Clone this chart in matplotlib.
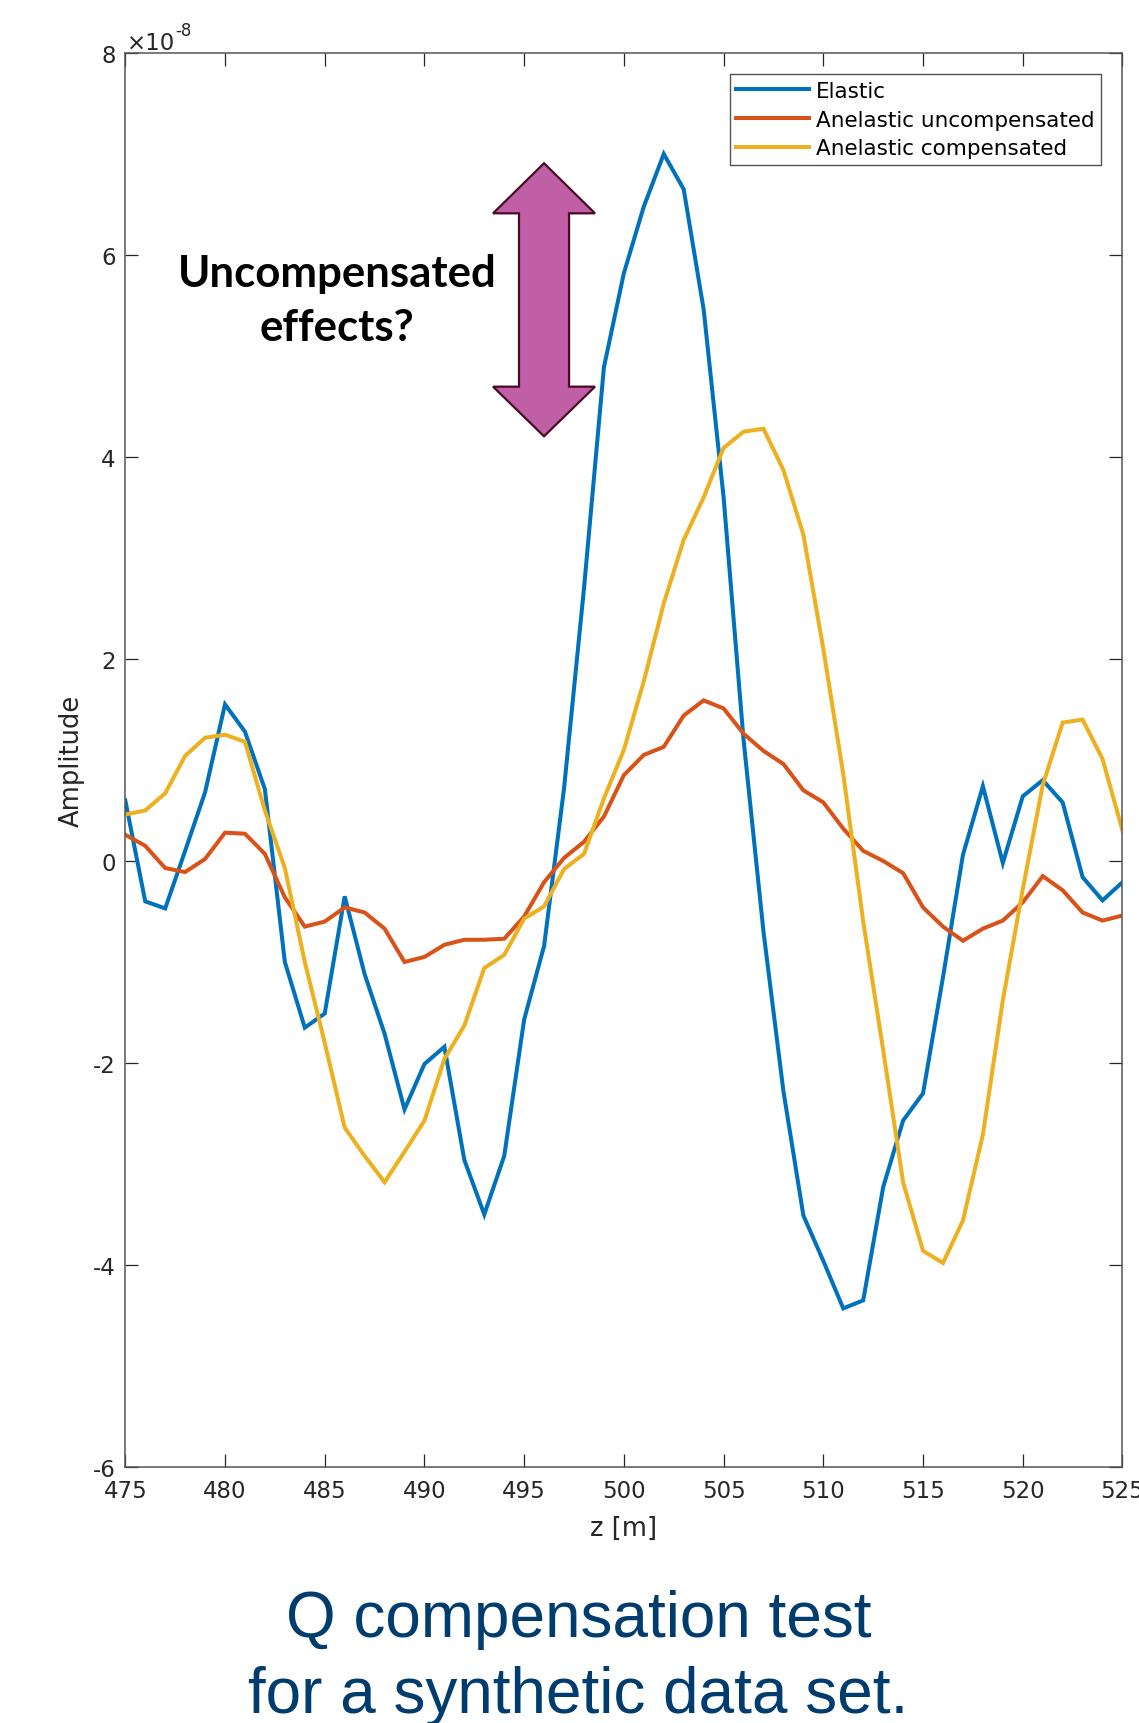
"""
    Q compensation test, synthetic trace comparison
"""
import numpy as np
import matplotlib
matplotlib.use("Agg")
import matplotlib.pyplot as plt
from matplotlib.patches import Polygon

plt.rcParams['font.family'] = ['DejaVu Sans']
plt.rcParams['axes.unicode_minus'] = False

# depth samples [m]
z = np.arange(475, 526)

# amplitudes in units of 1e-8
elastic = [0.60, -0.40, -0.47, 0.10, 0.68, 1.55, 1.28, 0.71, -1.00, -1.65,
           -1.51, -0.35, -1.12, -1.71, -2.46, -2.01, -1.84, -2.96, -3.50, -2.92,
           -1.57, -0.84, 0.72, 2.70, 4.89, 5.82, 6.48, 7.00, 6.65, 5.46,
           3.60, 1.20, -0.70, -2.28, -3.51, -3.96, -4.43, -4.35, -3.23, -2.57,
           -2.30, -1.15, 0.06, 0.74, -0.02, 0.64, 0.80, 0.58, -0.16, -0.39,
           -0.21]
anel_uncomp = [0.26, 0.15, -0.07, -0.11, 0.02, 0.28, 0.27, 0.07, -0.36, -0.65,
               -0.60, -0.46, -0.51, -0.67, -1.00, -0.95, -0.83, -0.78, -0.78, -0.77,
               -0.55, -0.21, 0.03, 0.19, 0.44, 0.85, 1.05, 1.13, 1.44, 1.59,
               1.51, 1.26, 1.09, 0.96, 0.70, 0.58, 0.32, 0.10, 0.00, -0.12,
               -0.46, -0.65, -0.79, -0.67, -0.59, -0.41, -0.15, -0.29, -0.51, -0.59,
               -0.54]
anel_comp = [0.46, 0.50, 0.67, 1.04, 1.22, 1.25, 1.18, 0.50, -0.07, -1.00,
             -1.80, -2.64, -2.92, -3.18, -2.88, -2.57, -1.96, -1.63, -1.06, -0.93,
             -0.57, -0.45, -0.08, 0.07, 0.62, 1.10, 1.78, 2.55, 3.18, 3.60,
             4.09, 4.25, 4.28, 3.87, 3.23, 2.10, 0.86, -0.60, -1.87, -3.18,
             -3.86, -3.98, -3.56, -2.71, -1.38, -0.28, 0.75, 1.37, 1.40, 1.01,
             0.30]

labels = ["Elastic", "Anelastic uncompensated", "Anelastic compensated"]
colors = ["#0072BD", "#D95319", "#EDB120"]

xticks = np.arange(475, 526, 5)
yticks = np.arange(-6, 9, 2)

text_col = '#262626'

fig = plt.figure(figsize=(11.39, 17.24), dpi=100)
ax = fig.add_axes([0.110, 0.1485, 0.8755, 0.8202])

for series, lab, col in zip([elastic, anel_uncomp, anel_comp], labels, colors):
    ax.plot(z, series, color=col, lw=2.9, label=lab, solid_joinstyle='miter')

ax.set_xlim(475, 525)
ax.set_ylim(-6, 8)
ax.set_xticks(xticks)
ax.set_yticks(yticks)
ax.tick_params(direction='in', length=9.5, width=0.9, colors=text_col,
               labelsize=16.5, top=True, right=True, pad=7)
ax.tick_params(axis='x', pad=9)
for sp in ax.spines.values():
    sp.set_color('#555555')
    sp.set_linewidth(1.1)

ax.set_xlabel("z [m]", fontsize=18.5, color=text_col, labelpad=9)
ax.set_ylabel("Amplitude", fontsize=18.5, color=text_col, labelpad=6)

# exponent marker, MATLAB style
ax.annotate('\u00d710', xy=(0, 1), xycoords='axes fraction', xytext=(1, 3),
            textcoords='offset points', ha='left', va='baseline',
            fontsize=16.5, color=text_col)
ax.annotate('-8', xy=(0, 1), xycoords='axes fraction', xytext=(36, 13),
            textcoords='offset points', ha='left', va='baseline',
            fontsize=12, color=text_col)

leg = ax.legend(loc='upper right', fontsize=15.5, handlelength=3.4,
                handletextpad=0.3, borderpad=0.3, labelspacing=0.4,
                borderaxespad=1.0, fancybox=False, framealpha=1)
leg.get_frame().set_edgecolor('#555555')
leg.get_frame().set_linewidth(1.0)

# double headed block arrow (axes fraction)
cx, hw, sw = 0.4199, 0.0511, 0.0251
ytop, yhb, ylb, ybot = 0.922, 0.8866, 0.764, 0.7289
arrow = Polygon([(cx, ytop), (cx + hw, yhb), (cx + sw, yhb), (cx + sw, ylb),
                 (cx + hw, ylb), (cx, ybot), (cx - hw, ylb), (cx - sw, ylb),
                 (cx - sw, yhb), (cx - hw, yhb)],
                closed=True, transform=ax.transAxes, facecolor='#C05FA5',
                edgecolor='#4A0A24', lw=1.6, zorder=5)
ax.add_patch(arrow)
ax.text(0.2123, 0.825, "Uncompensated\neffects?", transform=ax.transAxes,
        ha='center', va='center', fontsize=31.5, fontweight='bold',
        family=['Lato', 'DejaVu Sans'], color='black', linespacing=1.42)

# caption under the chart
cap_col = '#003D6E'
fig.text(0.508, 0.0506, "Q compensation test", ha='center', va='baseline',
         fontsize=46, color=cap_col, family=['Liberation Sans', 'DejaVu Sans'])
fig.text(0.508, 0.0062, "for a synthetic data set.", ha='center', va='baseline',
         fontsize=46, color=cap_col, family=['Liberation Sans', 'DejaVu Sans'])

fig.savefig("out.png", dpi=100)
